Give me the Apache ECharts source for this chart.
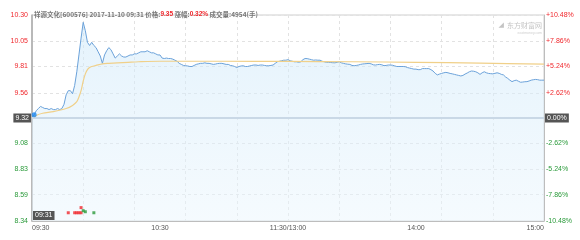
<!DOCTYPE html>
<html><head><meta charset="utf-8">
<script src="https://cdn.jsdelivr.net/npm/echarts@6/dist/echarts.min.js"></script>
<style>html,body{margin:0;padding:0;background:#fff}#c{width:580px;height:240px}</style>
</head><body><div id="c"></div>
<script>
const prevClose = 9.32;
const yTicks = [8.34, 8.59, 8.83, 9.08, 9.32, 9.56, 9.81, 10.05, 10.30];
const yPctLabels = ['-10.48%', '-7.86%', '-5.24%', '-2.62%', '0.00%', '+2.62%', '+5.24%', '+7.86%', '+10.48%'];
const xTickMinutes = [0, 60, 120, 180, 240];
const xTickLabels = ['09:30', '10:30', '11:30/13:00', '14:00', '15:00'];
// price per minute from 09:30 (index 0) to 15:00 (index 240)
const prices = [
 9.33,9.35,9.39,9.41,9.43,9.42,9.41,9.41,9.40,9.41,
 9.40,9.40,9.41,9.40,9.41,9.45,9.54,9.58,9.58,9.55,
 9.63,9.76,9.92,10.08,10.23,10.15,10.04,10.01,10.04,10.01,
 9.99,9.95,9.91,9.84,9.92,9.96,9.99,9.97,9.93,9.89,
 9.91,9.93,9.91,9.90,9.90,9.91,9.92,9.92,9.93,9.93,
 9.94,9.95,9.95,9.95,9.96,9.95,9.94,9.94,9.93,9.92,
 9.92,9.89,9.886,9.89,9.886,9.886,9.88,9.87,9.86,9.84,
 9.83,9.82,9.817,9.815,9.81,9.81,9.82,9.83,9.835,9.84,
 9.84,9.845,9.84,9.84,9.835,9.83,9.833,9.838,9.84,9.84,
 9.835,9.83,9.83,9.82,9.817,9.81,9.80,9.81,9.815,9.817,
 9.81,9.81,9.815,9.82,9.824,9.824,9.82,9.824,9.824,9.82,
 9.817,9.817,9.82,9.824,9.84,9.855,9.86,9.865,9.87,9.87,
 9.875,9.865,9.86,9.855,9.855,9.85,9.855,9.875,9.886,9.885,
 9.88,9.875,9.87,9.872,9.87,9.87,9.86,9.855,9.85,9.85,
 9.848,9.846,9.845,9.85,9.855,9.845,9.84,9.835,9.832,9.83,
 9.82,9.817,9.82,9.824,9.83,9.834,9.836,9.838,9.84,9.835,
 9.826,9.824,9.828,9.83,9.826,9.818,9.82,9.824,9.824,9.822,
 9.816,9.81,9.81,9.81,9.81,9.808,9.80,9.795,9.79,9.785,
 9.785,9.78,9.78,9.79,9.79,9.79,9.79,9.78,9.767,9.745,
 9.73,9.738,9.744,9.75,9.754,9.75,9.744,9.74,9.735,9.73,
 9.725,9.72,9.725,9.738,9.748,9.76,9.767,9.765,9.76,9.75,
 9.735,9.75,9.76,9.75,9.744,9.742,9.74,9.745,9.75,9.745,
 9.735,9.73,9.71,9.697,9.68,9.666,9.675,9.68,9.67,9.66,
 9.662,9.665,9.666,9.672,9.68,9.684,9.687,9.685,9.68,9.68,
 9.68
];
const avgMinutes = [0,2,5,10,16,19,21,22,23,24,25,26,27,28,30,33,36,40,45,50,60,90,120,150,180,210,240];
const avgPrices = [9.32,9.345,9.365,9.38,9.41,9.44,9.476,9.52,9.58,9.67,9.74,9.78,9.80,9.81,9.82,9.835,9.84,9.845,9.85,9.855,9.86,9.86,9.858,9.855,9.85,9.842,9.832];
const volMinutes = [17, 20, 21, 22, 23, 23, 24, 25, 29];
const volValues  = [4, 4, 4, 4, 6.5, 4, 5, 4.5, 4];
const volUp      = [1, 1, 1, 1, 1, 1, 0, 0, 0];
const cursorMinute = 1, cursorPrice = 9.35;

const RED = '#f0282d', GREEN = '#2a9a3a';
const FONT = 'Liberation Sans, Arial, sans-serif';
const chart = echarts.init(document.getElementById('c'), null, {renderer: 'canvas'});
function labelColor(v) { return v > prevClose + 0.005 ? RED : (v < prevClose - 0.005 ? GREEN : '#333'); }
function nearestIdx(v) { let b = 0; yTicks.forEach((t, i) => { if (Math.abs(t - v) < Math.abs(yTicks[b] - v)) b = i; }); return b; }

const option = {
  animation: false,
  backgroundColor: '#fff',
  grid: {left: 32, right: 36, top: 15, bottom: 19, show: true, borderColor: '#cfcfcf', borderWidth: 1},
  title: {
    left: 29, top: 6,
    text: '{a|祥源文化[600576] 2017-11-10 09:31 价格:}{r|9.35}{a| 涨幅:}{r|0.32%}{a| 成交量:4954(手)}',
    textStyle: {rich: {
      a: {fontSize: 6.5, color: '#777', fontFamily: 'Noto Sans CJK SC, ' + FONT},
      r: {fontSize: 6.5, color: RED, fontFamily: FONT}
    }}
  },
  xAxis: [{
    type: 'value', min: 0, max: 240, interval: 24,
    axisLine: {show: true, lineStyle: {color: '#bdbdbd', width: 1}},
    axisTick: {show: false},
    splitLine: {show: true, lineStyle: {color: '#e2e2e2', type: [3, 3]}},
    axisLabel: {
      customValues: xTickMinutes, fontSize: 7, color: '#555', fontFamily: FONT, margin: 4,
      alignMinLabel: 'left', alignMaxLabel: 'right',
      formatter: v => xTickLabels[xTickMinutes.indexOf(Math.round(v))] || ''
    }
  }],
  yAxis: [{
    type: 'value', min: yTicks[0], max: yTicks[yTicks.length - 1], position: 'left',
    axisLine: {show: true, lineStyle: {color: '#aaaaaa', width: 1.5}},
    axisTick: {show: false, customValues: yTicks},
    splitLine: {show: true, lineStyle: {color: '#e2e2e2', type: [3, 3]}},
    axisLabel: {
      customValues: yTicks, fontSize: 7, margin: 4, fontFamily: FONT, padding: [0, 0, 3, 0],
      formatter: v => v.toFixed(2),
      color: v => labelColor(v)
    }
  }, {
    type: 'value', min: yTicks[0], max: yTicks[yTicks.length - 1], position: 'right',
    axisLine: {show: true, lineStyle: {color: '#bdbdbd', width: 1}},
    axisTick: {show: false, customValues: yTicks},
    splitLine: {show: false},
    axisLabel: {
      customValues: yTicks, fontSize: 7, margin: 2, fontFamily: FONT, padding: [0, 0, 3, 0],
      formatter: v => yPctLabels[nearestIdx(v)],
      color: v => labelColor(v)
    }
  }, {
    type: 'value', min: 0, max: 100, show: false
  }],
  series: [{
    type: 'line', xAxisIndex: 0, yAxisIndex: 0,
    data: prices.map((p, i) => [i, p]),
    showSymbol: false, symbol: 'none',
    lineStyle: {color: '#6ba2da', width: 1},
    areaStyle: {origin: 'start', color: new echarts.graphic.LinearGradient(0, 0, 0, 1, [
      {offset: 0, color: 'rgba(205,232,250,0.75)'},
      {offset: 1, color: 'rgba(235,246,253,0.7)'}
    ])},
    markLine: {
      silent: true, symbol: 'none', animation: false,
      data: [{yAxis: prevClose, lineStyle: {color: '#c9d8e6', width: 2, type: 'solid'}, label: {show: false}}]
    },
    z: 3
  }, {
    type: 'line', xAxisIndex: 0, yAxisIndex: 0,
    data: avgMinutes.map((m, i) => [m, avgPrices[i]]),
    showSymbol: false, symbol: 'none', smooth: 0.3,
    lineStyle: {color: '#f0d089', width: 1.2},
    z: 4
  }, {
    type: 'scatter', xAxisIndex: 0, yAxisIndex: 0,
    data: [[cursorMinute, cursorPrice]],
    symbolSize: 5, itemStyle: {color: '#1e88f0'}, z: 6
  }, {
    type: 'scatter', xAxisIndex: 0, yAxisIndex: 2,
    data: volMinutes.map((m, i) => [m, volValues[i]]),
    symbol: 'rect', symbolSize: 3,
    itemStyle: {color: p => volUp[p.dataIndex] ? RED : GREEN}, z: 5
  }]
};
chart.setOption(option);

const pc = chart.convertToPixel({xAxisIndex: 0, yAxisIndex: 0}, [0, prevClose]);
const pr = chart.convertToPixel({xAxisIndex: 0, yAxisIndex: 0}, [240, prevClose]);
const pb = chart.convertToPixel({xAxisIndex: 0, yAxisIndex: 0}, [0, yTicks[0]]);
const boxStyle = {fontSize: 7, fill: '#fff', fontFamily: FONT, backgroundColor: '#555', padding: [1, 2, 1, 2]};
chart.setOption({graphic: [
  {type: 'text', x: pc[0] - 1, y: pc[1], z: 100, style: Object.assign({text: '9.32', align: 'right', verticalAlign: 'middle'}, boxStyle)},
  {type: 'text', x: pr[0] + 1, y: pr[1], z: 100, style: Object.assign({text: '0.00%', align: 'left', verticalAlign: 'middle'}, boxStyle)},
  {type: 'text', x: pb[0] + 1, y: pb[1] - 1, z: 100, style: Object.assign({text: '09:31', align: 'left', verticalAlign: 'bottom'}, boxStyle)},
  {type: 'text', right: 38, top: 22, z: 50, style: {text: '东方财富网', fontSize: 7, fill: '#c4c4c4', fontFamily: 'Noto Sans CJK SC'}},
  {type: 'text', right: 38, top: 31, z: 50, style: {text: 'eastmoney.com', fontSize: 3.5, fill: '#cfcfcf', fontFamily: FONT}},
  {type: 'text', right: 76, top: 22, z: 50, style: {text: '◢', fontSize: 7, fill: '#c4c4c4', fontFamily: 'DejaVu Sans'}}
]});
</script></body></html>
